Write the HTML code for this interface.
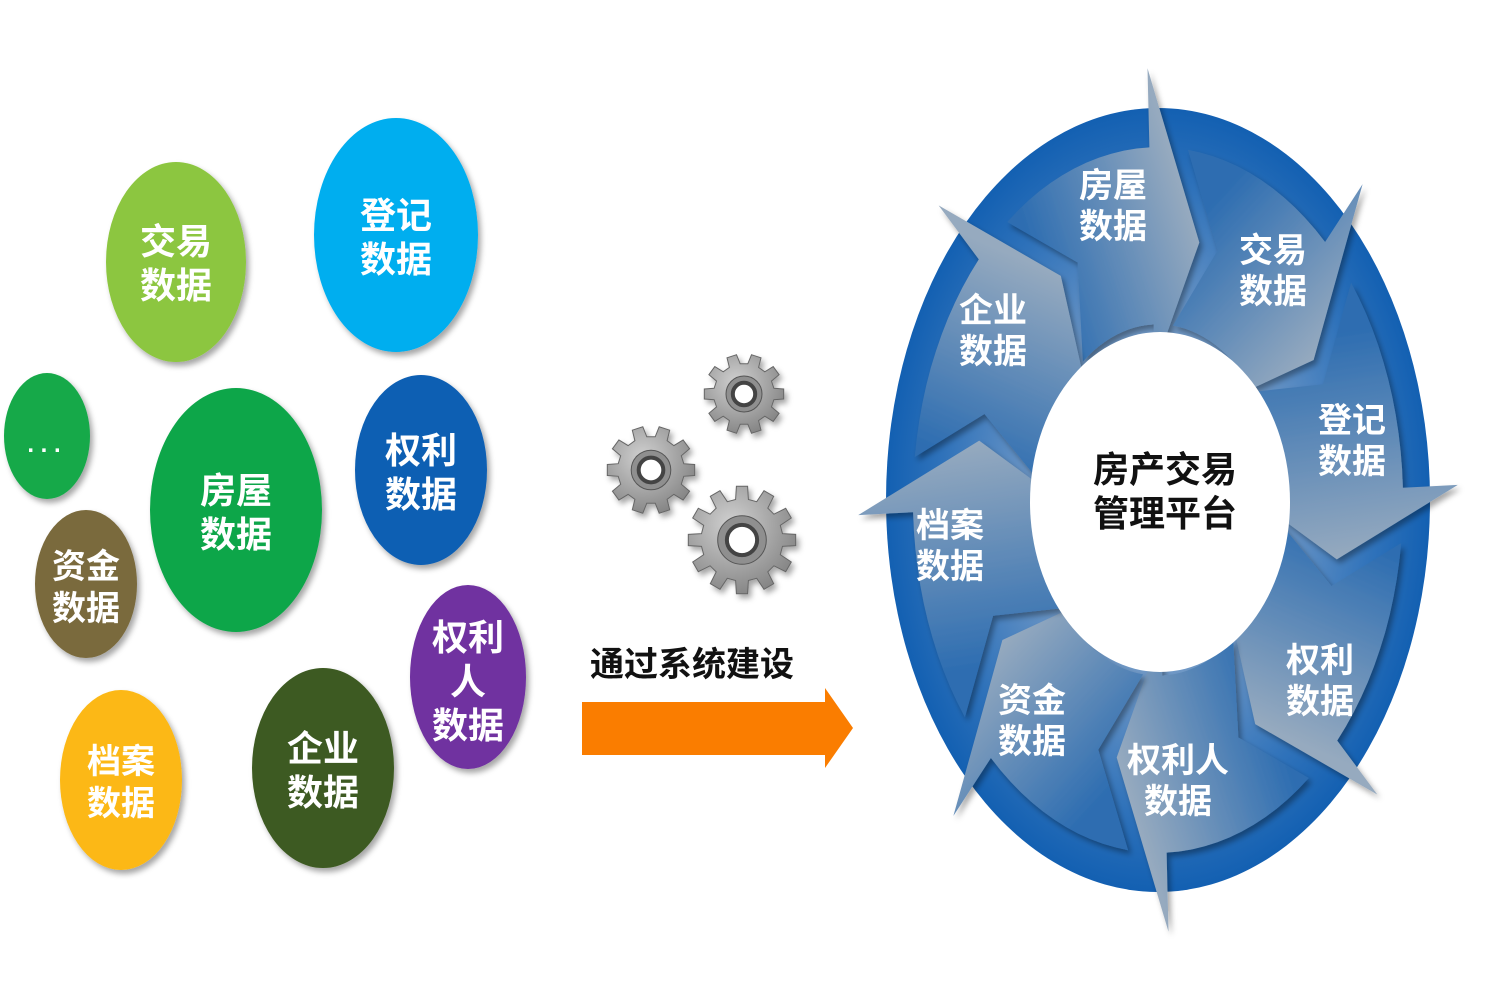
<!DOCTYPE html>
<html><head><meta charset="utf-8">
<style>
html,body{margin:0;padding:0;background:#fff;}
svg{display:block;}
text{font-family:"Liberation Sans","Noto Sans CJK SC",sans-serif;font-weight:bold;}
</style></head>
<body>
<svg id="s" width="1500" height="1000" viewBox="0 0 1500 1000" xmlns="http://www.w3.org/2000/svg">
<defs id="defs">
<radialGradient id="ring" cx="0.5" cy="0.5" r="0.5">
<stop offset="0.45" stop-color="#6f98c6"/><stop offset="0.8" stop-color="#2f72ba"/><stop offset="1" stop-color="#1360b2"/>
</radialGradient>
<radialGradient id="gear" cx="0.4" cy="0.35" r="0.75">
<stop offset="0" stop-color="#d0d0d0"/><stop offset="1" stop-color="#7d7d7d"/>
</radialGradient>
<filter id="sh" x="-20%" y="-20%" width="140%" height="140%"><feDropShadow dx="3" dy="4" stdDeviation="3" flood-color="#000" flood-opacity="0.35"/></filter>
</defs>

<g filter="url(#sh)">
<ellipse cx="176" cy="262" rx="70" ry="100" fill="#8cc63f"/>
<ellipse cx="396" cy="235" rx="82" ry="117" fill="#00aeef"/>
<ellipse cx="47" cy="436" rx="43" ry="63" fill="#16a94a"/>
<ellipse cx="236" cy="510" rx="86" ry="122" fill="#0fa64a"/>
<ellipse cx="421" cy="470" rx="66" ry="95" fill="#0b5eb3"/>
<ellipse cx="86" cy="584" rx="51" ry="74" fill="#7a6a3c"/>
<ellipse cx="468" cy="677" rx="58" ry="92" fill="#7030a0"/>
<ellipse cx="121" cy="780" rx="61" ry="90" fill="#fcb813"/>
<ellipse cx="323" cy="768" rx="71" ry="100" fill="#3d5a20"/>
</g>
<g fill="#fff" font-size="36" text-anchor="middle">
<text x="176" y="254">交易</text><text x="176" y="298">数据</text>
<text x="396" y="228">登记</text><text x="396" y="272">数据</text>
<text x="44" y="452" font-size="24">. . .</text>
<text x="236" y="503">房屋</text><text x="236" y="547">数据</text>
<text x="421" y="463">权利</text><text x="421" y="507">数据</text>
<text x="86" y="578" font-size="34">资金</text><text x="86" y="620" font-size="34">数据</text>
<text x="468" y="650">权利</text><text x="468" y="694">人</text><text x="468" y="738">数据</text>
<text x="121" y="773" font-size="34">档案</text><text x="121" y="815" font-size="34">数据</text>
<text x="323" y="761">企业</text><text x="323" y="805">数据</text>
</g>

<text x="692" y="676" font-size="34" fill="#111" text-anchor="middle" font-weight="normal">通过系统建设</text>
<polygon points="582,702 825,702 825,688 853,728 825,768 825,755 582,755" fill="#fa7d00"/>
<g id="gears"></g>

<ellipse cx="1158" cy="500" rx="272" ry="392" fill="url(#ring)"/>
<g id="arrows"></g>
<ellipse cx="1160" cy="502" rx="130" ry="170" fill="#fff"/>
<g fill="#fff" font-size="34" text-anchor="middle">
<text x="1113" y="197">房屋</text><text x="1113" y="238">数据</text>
<text x="1273" y="262">交易</text><text x="1273" y="303">数据</text>
<text x="1352" y="432">登记</text><text x="1352" y="473">数据</text>
<text x="1320" y="672">权利</text><text x="1320" y="713">数据</text>
<text x="1178" y="772">权利人</text><text x="1178" y="813">数据</text>
<text x="1032" y="712">资金</text><text x="1032" y="753">数据</text>
<text x="950" y="537">档案</text><text x="950" y="578">数据</text>
<text x="993" y="322">企业</text><text x="993" y="363">数据</text>
</g>
<g fill="#111" font-size="36" text-anchor="middle" font-weight="normal">
<text x="1165" y="482">房产交易</text><text x="1165" y="526">管理平台</text>
</g>
</svg>
<script>
(function(){
var NS="http://www.w3.org/2000/svg";
var cx=1158,cy=500,sy=1.44;
function XY(a,r){var t=a*Math.PI/180;return [cx+r*Math.sin(t),cy-r*Math.cos(t)*sy];}
function P(a,r){var q=XY(a,r);return q[0].toFixed(1)+","+q[1].toFixed(1);}
var g=document.getElementById("arrows"),defs=document.getElementById("defs");
for(var k=0;k<8;k++){
 var c=-14+45*k,a0=c-24,a1=c+12,tip=c+27;
 var r1=122,r2=245,h1=92,h2=300,rm=(r1+r2)/2;
 var lg=document.createElementNS(NS,"linearGradient");
 lg.setAttribute("id","ag"+k);lg.setAttribute("gradientUnits","userSpaceOnUse");
 var s=XY(a0,rm),e=XY(tip,rm);
 lg.setAttribute("x1",s[0]);lg.setAttribute("y1",s[1]);lg.setAttribute("x2",e[0]);lg.setAttribute("y2",e[1]);
 var st1=document.createElementNS(NS,"stop");st1.setAttribute("offset","0");st1.setAttribute("stop-color","#2d6db1");
 var st2=document.createElementNS(NS,"stop");st2.setAttribute("offset","1");st2.setAttribute("stop-color","#96aabf");
 lg.appendChild(st1);lg.appendChild(st2);
 defs.appendChild(lg);
 var pts=[];
 for(var a=a0;a<=a1;a+=3)pts.push(P(a,r2));
 pts.push(P(a1,r2));pts.push(P(a1,h2));pts.push(P(tip,rm));pts.push(P(a1,h1));pts.push(P(a1,r1));
 for(var a=a1;a>=a0;a-=3)pts.push(P(a,r1));
 pts.push(P(a0,r1));pts.push(P(a0+12,rm));
 var p=document.createElementNS(NS,"polygon");
 p.setAttribute("points",pts.join(" "));
 p.setAttribute("fill","url(#ag"+k+")");p.setAttribute("filter","url(#sh)");
 g.appendChild(p);
}
var gg=document.getElementById("gears");
function gear(x,y,R,n){
 var pts=[],ri=R*0.76;
 for(var i=0;i<n;i++){
  var b=i*2*Math.PI/n,s=Math.PI/n;
  var angs=[[b-s*0.6,ri],[b-s*0.4,R],[b+s*0.4,R],[b+s*0.6,ri]];
  angs.forEach(function(q){pts.push((x+q[1]*Math.cos(q[0])).toFixed(1)+","+(y+q[1]*Math.sin(q[0])).toFixed(1));});
 }
 var p=document.createElementNS(NS,"polygon");p.setAttribute("points",pts.join(" "));
 p.setAttribute("fill","url(#gear)");p.setAttribute("stroke","#666");p.setAttribute("filter","url(#sh)");gg.appendChild(p);
 var c1=document.createElementNS(NS,"circle");c1.setAttribute("cx",x);c1.setAttribute("cy",y);c1.setAttribute("r",R*0.45);
 c1.setAttribute("fill","#8f8f8f");c1.setAttribute("stroke","#555");gg.appendChild(c1);
 var c2=document.createElementNS(NS,"circle");c2.setAttribute("cx",x);c2.setAttribute("cy",y);c2.setAttribute("r",R*0.28);
 c2.setAttribute("fill","#fff");c2.setAttribute("stroke","#444");c2.setAttribute("stroke-width","4");gg.appendChild(c2);
}
gear(651,470,44,10);gear(744,394,40,10);gear(742,540,54,12);
})();
</script>
</body></html>
